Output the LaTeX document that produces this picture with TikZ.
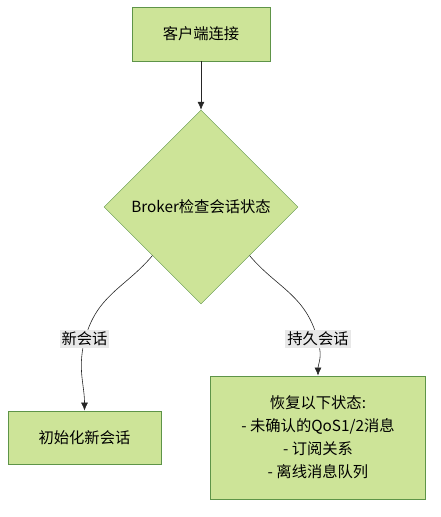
\documentclass[tikz,border=0pt]{standalone}
\usepackage{fontspec}
\setmainfont{Noto Sans CJK SC}
\usetikzlibrary{shapes.geometric,arrows.meta}
\definecolor{nodefill}{HTML}{CDE498}
\definecolor{nodeline}{HTML}{5E9448}
\definecolor{lblfill}{HTML}{E8E8E8}
\begin{document}
\begin{tikzpicture}[x=1pt, y=-1pt,
  every node/.style={font=\fontsize{15.3}{23}\selectfont, text=black},
  box/.style={rectangle, draw=nodeline, fill=nodefill, line width=0.8pt, align=center},
  lbl/.style={fill=lblfill, inner sep=2pt},
  edge/.style={-{Latex[length=8pt,width=7pt]}, line width=0.6pt, draw=black!85}]
\useasboundingbox (0,0) rectangle (441,517);
\node (A) at (201, 34) [box, minimum width=138pt, minimum height=54pt] {客户端连接};
\node (B) at (201, 207) [diamond, draw=nodeline, fill=nodefill, minimum width=194pt, minimum height=194pt, inner sep=0pt] {Broker检查会话状态};
\node (C) at (84.5, 437.5) [box, minimum width=153pt, minimum height=53pt] {初始化新会话};
\node (D) at (318, 437.5) [box, minimum width=215pt, minimum height=123pt] {恢复以下状态:\\- 未确认的QoS1/2消息\\- 订阅关系\\- 离线消息队列};
\node (E) at (84.5, 339) [lbl] {新会话};
\node (F) at (318, 339) [lbl] {持久会话};

\draw[line width=0.6pt, black!85] (B.south west) to[out=-130, in=70] (E);
\draw[edge] (E) to[out=-100, in=90] (C);
\draw[line width=0.6pt, black!85] (B.south east) to[out=-50, in=110] (F);
\draw[edge] (F) to[out=-80, in=90] (D);
\draw[edge] (A) to (B);
\end{tikzpicture}
\end{document}
